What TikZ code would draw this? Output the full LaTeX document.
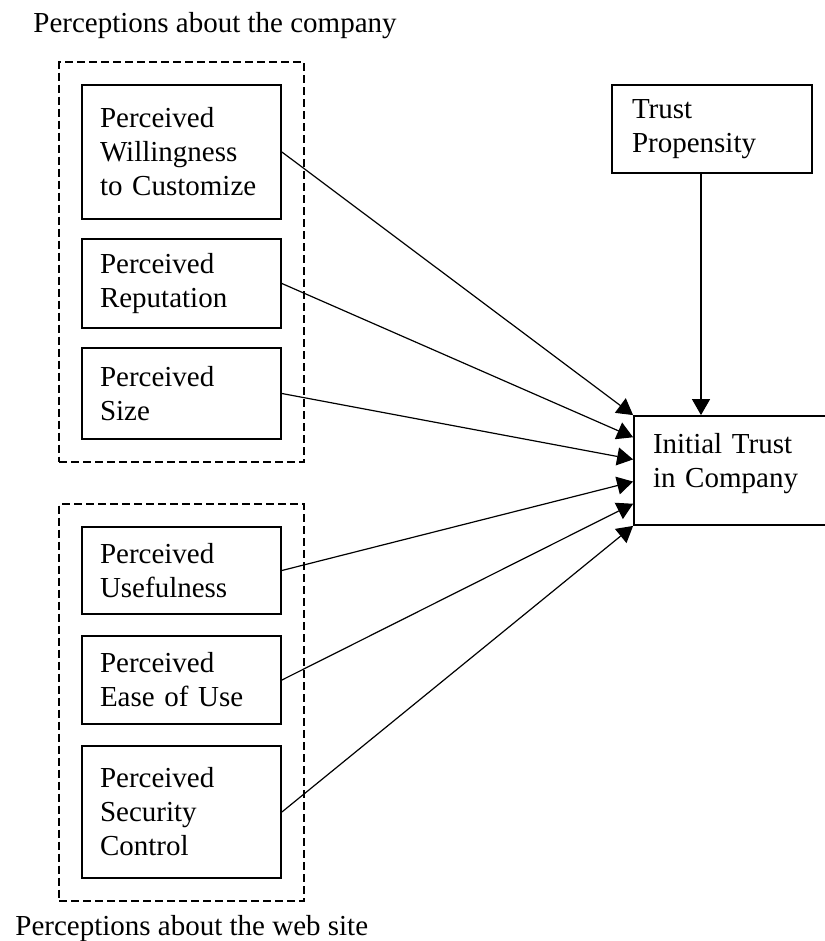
\documentclass[tikz,border=0pt]{standalone}
\usepackage{fontspec}
\setmainfont{Liberation Serif}
\usetikzlibrary{arrows.meta,fit,calc}

\begin{document}
\begin{tikzpicture}[x=0.5pt,y=-0.5pt,
	font=\fontsize{14.5}{17}\selectfont,
	box/.style={draw,line width=0.9pt,align=left,inner xsep=9pt,text width=81.5pt,minimum width=99.5pt},
	group/.style={draw,line width=0.9pt,dash pattern=on 4pt off 2pt,inner sep=11pt},
	link/.style={line width=0.6pt,-{Triangle[length=8pt,width=9pt]}}]
	\useasboundingbox (0,0) rectangle (824,941);

	\node[anchor=base west,inner sep=0pt] (toplabel) at (33,33) {Perceptions about the company};

	\node[box,minimum height=67pt] (will) at (181.5,152) {Perceived\\ Willingness\\ to Customize};
	\node[box,minimum height=44.5pt] (rep) at (181.5,283.5) {Perceived\\ Reputation};
	\node[box,minimum height=45.5pt] (size) at (181.5,393.5) {Perceived\\ Size};
	\node[group,fit=(will)(size)] (company) {};

	\node[box,minimum height=43.5pt] (use) at (181.5,570.5) {Perceived\\ Usefulness};
	\node[box,minimum height=44pt] (ease) at (181.5,680) {Perceived\\ Ease of Use};
	\node[box,minimum height=66pt] (sec) at (181.5,812) {Perceived\\ Security\\ Control};
	\node[group,fit=(use)(sec)] (site) {};

	\node[anchor=base west,inner sep=0pt] (bottomlabel) at (15,935) {Perceptions about the web site};

	\node[box,inner xsep=10pt,text width=80pt,minimum width=100pt,minimum height=44pt] (trust) at (712,129) {Trust\\ Propensity};
	\node[box,inner xsep=9.5pt,text width=81.5pt,minimum width=100.5pt,minimum height=54.5pt] (init) at (734.5,470.5) {Initial Trust\\ in Company\\[-7pt] \mbox{}};

	% arrows into initial trust
	\foreach \src/\t in {will/0,rep/0.2,size/0.4,use/0.6,ease/0.8,sec/1}
		\draw[link] (\src.east) -- ($(init.north west)!\t!(init.south west)$);
	\draw[link] ([xshift=-5.5pt]trust.south) -- ([xshift=-5.5pt]trust.south |- init.north);

\end{tikzpicture}
\end{document}
